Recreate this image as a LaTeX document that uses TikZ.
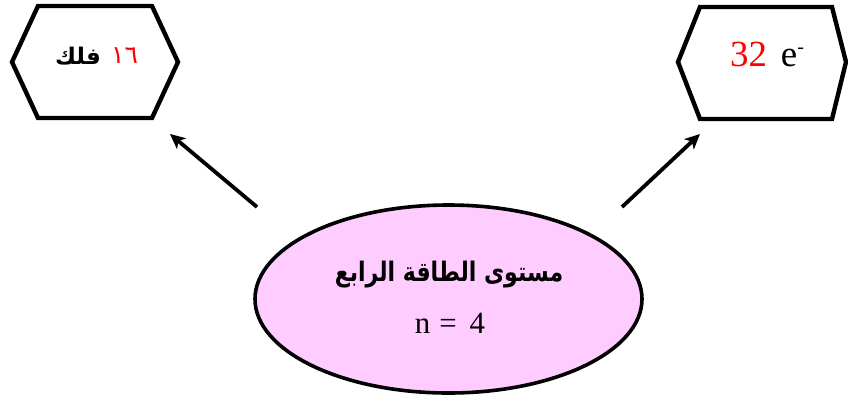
\documentclass[tikz,border=0pt]{standalone}
\usepackage{fontspec}
\usepackage{graphicx}
\usetikzlibrary{shapes.geometric,arrows.meta}
\setmainfont{Liberation Serif}
\newfontfamily\arabicfont[Script=Arabic]{DejaVu Sans}
\TeXXeTstate=1
\definecolor{levelpink}{HTML}{FFCCFF}
\tikzset{
  hexline/.style={draw=black, line width=4.4bp, line join=miter},
  pointer/.style={draw=black, line width=3.8bp, -{Stealth[length=15bp,width=14bp,inset=4bp]}},
  levelshape/.style={ellipse, draw=black, line width=3.6bp, fill=levelpink,
    minimum width=387bp, minimum height=188bp, inner sep=0pt},
  label/.style={inner sep=0pt, anchor=center}
}
\begin{document}
\begin{tikzpicture}[x=1bp,y=-1bp]
  \useasboundingbox (0,0) rectangle (848,398);

  % left hexagon: number of orbitals
  \draw[hexline] (12,62) -- (38,6) -- (152,6) -- (178,62) -- (152,118) -- (38,118) -- cycle;
  \node[label, anchor=east] (orbword) at (101,56)
    {\fontsize{23}{26}\selectfont\arabicfont\bfseries\beginR فلك\endR};
  \node[label, anchor=west, text=red] (orbnum) at (111,56)
    {\fontsize{25}{28}\selectfont\arabicfont ١٦};

  % right hexagon: number of electrons
  \draw[hexline] (678,62) -- (700,7) -- (832,7) -- (846,62) -- (832,119) -- (700,119) -- cycle;
  \node[label] (elec) at (767,54)
    {\fontsize{37}{40}\selectfont{\color{red}32}\hspace{14bp}e\raisebox{13bp}{\fontsize{20}{22}\selectfont -}};

  % central energy level
  \node[levelshape] (level) at (448.5,299) {};
  \node[label] (title) at (449,275)
    {\scalebox{0.82}[1]{\fontsize{27}{30}\selectfont\arabicfont\bfseries\beginR مستوى الطاقة الرابع\endR}};
  \node[label] (nval) at (450,323)
    {\fontsize{31}{34}\selectfont n\hspace{9bp}=\hspace{13bp}4};

  % arrows from the level to both hexagons
  \coordinate (lt) at (257,207);
  \coordinate (lh) at (170,134);
  \coordinate (rt) at (622,207);
  \coordinate (rh) at (700,134);
  \draw[pointer] (lt) -- (lh);
  \draw[pointer] (rt) -- (rh);
\end{tikzpicture}
\end{document}
